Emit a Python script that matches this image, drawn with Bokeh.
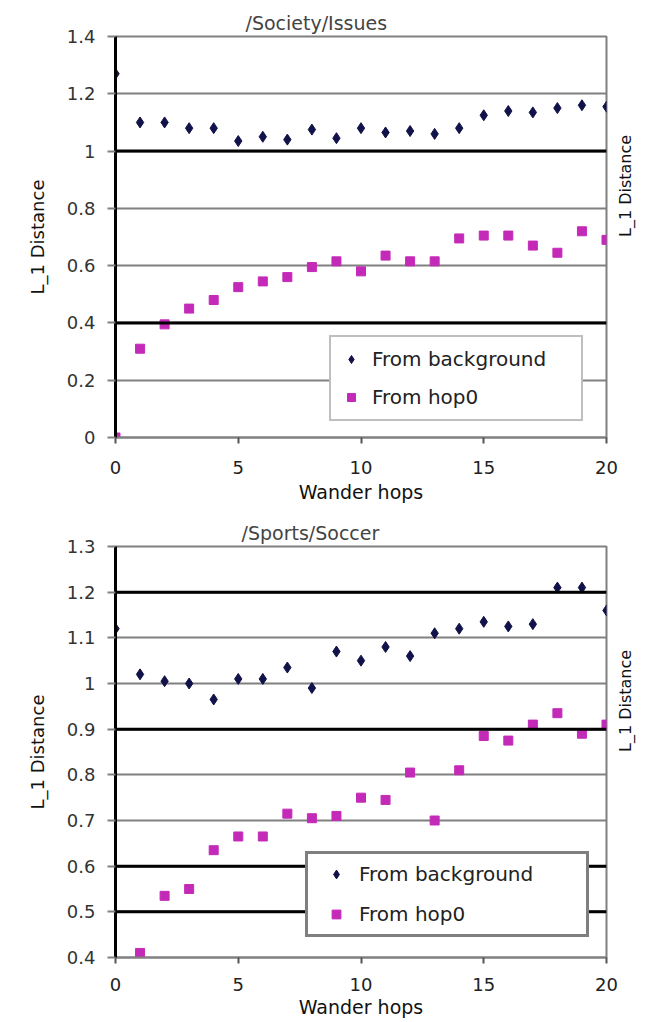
import math
from bokeh.plotting import figure
from bokeh.layouts import column
from bokeh.models import Range1d, FixedTicker, CustomJSTickFormatter, Span, LinearAxis
from bokeh.embed import file_html
from bokeh.resources import INLINE

# ---------------- data ----------------
hops = list(range(21))
x_ticks = [0, 5, 10, 15, 20]

society_title = "/Society/Issues"
society_from_background = [1.27, 1.10, 1.10, 1.08, 1.08, 1.035, 1.05, 1.04, 1.075, 1.045, 1.08,
                           1.065, 1.07, 1.06, 1.08, 1.125, 1.14, 1.135, 1.15, 1.16, 1.155]
society_from_hop0 = [0.0, 0.31, 0.395, 0.45, 0.48, 0.525, 0.545, 0.56, 0.595, 0.615, 0.58,
                     0.635, 0.615, 0.615, 0.695, 0.705, 0.705, 0.67, 0.645, 0.72, 0.69]
society_y_ticks = [0, 0.2, 0.4, 0.6, 0.8, 1.0, 1.2, 1.4]
society_dark_grid = [0.4, 1.0]

soccer_title = "/Sports/Soccer"
soccer_from_background = [1.12, 1.02, 1.005, 1.0, 0.965, 1.01, 1.01, 1.035, 0.99, 1.07, 1.05,
                          1.08, 1.06, 1.11, 1.12, 1.135, 1.125, 1.13, 1.21, 1.21, 1.16]
soccer_from_hop0 = [0.0, 0.41, 0.535, 0.55, 0.635, 0.665, 0.665, 0.715, 0.705, 0.71, 0.75,
                    0.745, 0.805, 0.70, 0.81, 0.885, 0.875, 0.91, 0.935, 0.89, 0.91]
soccer_y_ticks = [0.4, 0.5, 0.6, 0.7, 0.8, 0.9, 1.0, 1.1, 1.2, 1.3]
soccer_dark_grid = [0.5, 0.6, 0.9, 1.2]

series_labels = ["From background", "From hop0"]
x_label = "Wander hops"
y_label = "L_1 Distance"

FONT = "DejaVu Sans"
BG_COLOR = "#12124a"
HOP_COLOR = "#c42ab8"
RIGHT_LABEL_PX = 102  # approx. rendered length of the rotated right label


def panel(title, bg, hop, yticks, dark, height, top_b, bottom_b, xstd, xlstd, title_off,
          leg_loc, leg_pad, leg_spacing, leg_gw, leg_stand, leg_lw, leg_border, leg_bw):
    y0, y1 = yticks[0], yticks[-1]
    p = figure(width=647, height=height, output_backend="svg", toolbar_location=None,
               x_range=Range1d(0, 20), y_range=Range1d(y0, y1),
               min_border_left=115, min_border_right=39, min_border_top=top_b,
               min_border_bottom=bottom_b, title=title)
    p.background_fill_color = "white"
    p.border_fill_color = "white"
    p.outline_line_color = "#808080"
    p.outline_line_width = 2

    p.title.align = "left"
    p.title.offset = title_off
    p.title.standoff = 5
    p.title.text_font = FONT
    p.title.text_font_size = "19px"
    p.title.text_font_style = "normal"
    p.title.text_color = "#444444"

    fmt = CustomJSTickFormatter(code="return String(Math.round(tick*10)/10)")

    p.xaxis.ticker = FixedTicker(ticks=x_ticks)
    p.yaxis.ticker = FixedTicker(ticks=yticks)
    p.xaxis.formatter = fmt
    p.yaxis.formatter = fmt
    p.xgrid.visible = False
    p.ygrid.ticker = FixedTicker(ticks=yticks)
    p.ygrid.grid_line_color = "#808080"
    p.ygrid.grid_line_width = 2

    for v in dark:
        p.add_layout(Span(location=v, dimension="width", line_color="black", line_width=3))

    ya = p.yaxis[0]
    ya.axis_line_color = "black"
    ya.axis_line_width = 3
    ya.major_tick_out = 8
    ya.major_tick_in = 0
    ya.major_tick_line_color = "#808080"
    ya.major_tick_line_width = 2
    ya.minor_tick_out = 0
    ya.major_label_standoff = 12
    ya.major_label_text_font = FONT
    ya.major_label_text_font_size = "18px"
    ya.major_label_text_color = "#333333"
    ya.axis_label = y_label
    ya.axis_label_text_font = FONT
    ya.axis_label_text_font_size = "18px"
    ya.axis_label_text_font_style = "normal"
    ya.axis_label_text_color = "#111111"
    ya.axis_label_standoff = 16

    # right-hand label of the neighbouring chart, reading bottom-to-top.
    # The rotated label starts at the middle of the axis bounds, so shift the
    # bounds down by half the label length to centre it on the frame.
    frame_h = height - top_b - bottom_b
    shift = (RIGHT_LABEL_PX / 2) * (y1 - y0) / frame_h
    mid = (y0 + y1) / 2 - shift
    ra = LinearAxis(ticker=FixedTicker(ticks=[]), axis_label=y_label,
                    bounds=(y0, 2 * mid - y0))
    ra.axis_line_color = None
    ra.major_tick_out = 0
    ra.major_tick_in = 0
    ra.minor_tick_out = 0
    ra.major_label_text_font_size = "0px"
    ra.axis_label_orientation = math.pi / 2
    ra.axis_label_text_font = FONT
    ra.axis_label_text_font_size = "16px"
    ra.axis_label_text_font_style = "normal"
    ra.axis_label_text_color = "#111111"
    ra.axis_label_standoff = 19
    p.add_layout(ra, "right")

    xa = p.xaxis[0]
    xa.axis_line_color = "#808080"
    xa.axis_line_width = 2
    xa.major_tick_out = 6
    xa.major_tick_in = 0
    xa.major_tick_line_color = "#555555"
    xa.major_tick_line_width = 2
    xa.minor_tick_out = 0
    xa.major_label_standoff = xstd
    xa.major_label_text_font = FONT
    xa.major_label_text_font_size = "18px"
    xa.major_label_text_color = "#222222"
    xa.axis_label = x_label
    xa.axis_label_text_font = FONT
    xa.axis_label_text_font_size = "19px"
    xa.axis_label_text_font_style = "normal"
    xa.axis_label_text_color = "#111111"
    xa.axis_label_standoff = xlstd

    p.scatter(hops, bg, marker="diamond", size=11, color=BG_COLOR, legend_label=series_labels[0])
    p.scatter(hops, hop, marker="square", size=9, color=HOP_COLOR, legend_label=series_labels[1])

    lg = p.legend[0]
    lg.location = leg_loc
    lg.padding = leg_pad
    lg.spacing = leg_spacing
    lg.margin = 0
    lg.label_height = 22
    lg.glyph_height = 22
    lg.glyph_width = leg_gw
    lg.label_standoff = leg_stand
    lg.label_width = leg_lw
    lg.label_text_font = FONT
    lg.label_text_font_size = "20px"
    lg.label_text_color = "#222222"
    lg.border_line_color = leg_border
    lg.border_line_width = leg_bw
    lg.background_fill_color = "white"
    lg.background_fill_alpha = 1.0
    return p


p1 = panel(society_title, society_from_background, society_from_hop0, society_y_ticks,
           society_dark_grid, 508, 36, 71, 17, 4, 130,
           (214, 16), 10, 14, 20, 11, 199, "#808080", 2)
p2 = panel(soccer_title, soccer_from_background, soccer_from_hop0, soccer_y_ticks,
           soccer_dark_grid, 514, 38, 65, 14, 2, 126,
           (190, 20), 8, 16, 40, 3, 219, "black", 3)

layout = column(p1, p2, spacing=0)
open("out.html", "w").write(file_html(layout, INLINE))
